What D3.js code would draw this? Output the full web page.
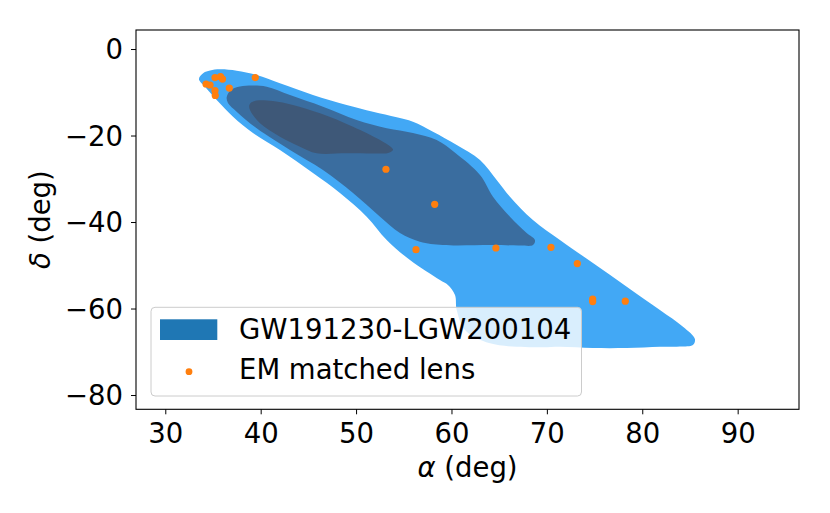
<!DOCTYPE html>
<html>
<head>
<meta charset="utf-8">
<script src="https://cdn.jsdelivr.net/npm/d3@7"></script>
<style>
  html, body { margin: 0; padding: 0; background: #ffffff; }
  svg { display: block; }
  text { font-family: "DejaVu Sans", sans-serif; fill: #000; }
</style>
</head>
<body>
<svg id="chart" width="830" height="513"></svg>
<script>
// ---- data ----
const xTicks = [30, 40, 50, 60, 70, 80, 90];
const yTicks = [0, -20, -40, -60, -80];
const xDomain = [26.93, 96.43];
const yDomain = [-83.3, 4.4];

const seriesLabel = "GW191230-LGW200104";
const pointsLabel = "EM matched lens";

// credible-region outlines [alpha, delta]
const outerContour = [
  [33.53,-6.94],[34.0,-5.55],[34.69,-4.97],[35.73,-4.69],[37.48,-5.02],[39.58,-6.01],
  [42.02,-7.93],[45.48,-10.64],[49.01,-12.95],[51.77,-14.50],[54.26,-15.79],[55.96,-16.81],
  [58.06,-19.12],[60.55,-22.20],[62.99,-25.66],[64.74,-30.29],[66.13,-34.15],[68.54,-39.54],
  [71.37,-44.16],[74.83,-49.48],[78.37,-54.96],[81.85,-60.35],[84.27,-64.21],[85.52,-67.05],
  [85.31,-68.44],[83.95,-68.79],[81.85,-68.83],[78.37,-69.13],[74.83,-69.13],[71.37,-68.83],
  [69.28,-68.97],[64.04,-68.05],[61.42,-64.97],[60.55,-60.35],[60.37,-56.88],[59.63,-54.57],
  [58.79,-53.41],[55.65,-48.79],[53.21,-44.16],[51.11,-38.77],[48.31,-33.29],[45.48,-28.67],
  [42.02,-23.35],[39.19,-19.42],[37.10,-15.65],[35.39,-11.79],[34.16,-8.72]
];
const middleContour = [
  [36.44,-11.10],[36.89,-9.48],[37.83,-8.67],[39.19,-8.44],[40.63,-8.72],[43.07,-10.64],
  [46.53,-13.34],[50.06,-16.42],[53.21,-18.34],[55.96,-19.42],[58.45,-21.04],[60.41,-24.05],
  [62.99,-29.13],[64.35,-34.15],[66.13,-38.77],[67.88,-42.54],[68.75,-44.16],[68.54,-45.32],
  [67.18,-45.43],[64.35,-45.32],[59.11,-45.32],[56.70,-44.55],[54.60,-42.54],[52.51,-38.77],
  [49.68,-33.29],[46.53,-27.98],[43.07,-23.35],[39.58,-18.34],[37.48,-14.50],[36.57,-12.49]
];
const innerContour = [
  [38.81,-12.95],[39.09,-12.25],[39.58,-11.91],[41.29,-12.02],[43.39,-12.95],[46.22,-14.87],
  [49.68,-17.97],[52.51,-21.04],[53.66,-22.66],[53.87,-23.35],[53.35,-24.05],[52.51,-24.16],
  [49.01,-24.12],[45.87,-24.12],[44.12,-22.59],[42.02,-20.28],[39.93,-17.18],[38.88,-14.10]
];

// EM matched lens positions
const lensAlpha = [34.27, 34.69, 35.21, 35.79, 36.0, 35.21, 35.24, 36.71, 39.43,
                   53.13, 58.24, 56.28, 64.66, 70.43, 73.19, 74.8, 74.8, 78.22];
const lensDelta = [-8.09, -8.32, -6.59, -6.40, -6.94, -9.64, -10.75, -9.02, -6.59,
                   -27.8, -35.9, -46.4, -46.0, -45.85, -49.6, -57.8, -58.4, -58.3];

// ---- layout ----
const svg = d3.select("#chart");
const L = 136, R = 799, T = 30, B = 409.3;
const x = d3.scaleLinear().domain(xDomain).range([L, R]);
const y = d3.scaleLinear().domain(yDomain).range([B, T]);
const fs = 27.5;

const plot = svg.append("g");
svg.append("defs").append("clipPath").attr("id", "clip")
  .append("rect").attr("x", L).attr("y", T).attr("width", R - L).attr("height", B - T);
plot.attr("clip-path", "url(#clip)");

const line = d3.line()
  .x(d => x(d[0])).y(d => y(d[1]))
  .curve(d3.curveCatmullRomClosed.alpha(0.5));

const contours = [
  { data: outerContour, color: "#42a8f5" },
  { data: middleContour, color: "#3a6d9f" },
  { data: innerContour, color: "#3e5878" }
];
plot.selectAll("path.ctr").data(contours).join("path")
  .attr("class", "ctr")
  .attr("d", d => line(d.data))
  .attr("fill", d => d.color)
  .attr("stroke", "none");

const pts = lensAlpha.map((a, i) => [a, lensDelta[i]]);
plot.selectAll("circle.lens").data(pts).join("circle")
  .attr("class", "lens")
  .attr("cx", d => x(d[0])).attr("cy", d => y(d[1]))
  .attr("r", 3.6).attr("fill", "#ff7f0e");

// ---- axes ----
const xAxis = d3.axisBottom(x).tickValues(xTicks).tickSize(5).tickPadding(0).tickFormat(d3.format("d"));
const yAxis = d3.axisLeft(y).tickValues(yTicks).tickSize(5).tickPadding(0)
  .tickFormat(d => d < 0 ? "\u2212" + Math.abs(d) : String(d));

const gx = svg.append("g").attr("transform", `translate(0,${B})`).call(xAxis);
const gy = svg.append("g").attr("transform", `translate(${L},0)`).call(yAxis);
[gx, gy].forEach(g => {
  g.select(".domain").remove();
  g.selectAll(".tick line").attr("stroke", "#000").attr("stroke-width", 1);
  g.selectAll(".tick text").attr("font-family", "DejaVu Sans").attr("font-size", fs).attr("fill", "#000");
});
gx.selectAll(".tick text").attr("y", 34).attr("dy", null);
gy.selectAll(".tick text").attr("x", -13).attr("dy", "0.36em");

// frame
svg.append("rect").attr("x", L).attr("y", T).attr("width", R - L).attr("height", B - T)
  .attr("fill", "none").attr("stroke", "#000").attr("stroke-width", 1.1);

// axis labels
svg.append("text").attr("x", (L + R) / 2).attr("y", 477)
  .attr("text-anchor", "middle").attr("font-size", fs)
  .html('<tspan font-style="italic">α</tspan> (deg)');
svg.append("text").attr("transform", `translate(50,${(T + B) / 2}) rotate(-90)`)
  .attr("text-anchor", "middle").attr("font-size", fs)
  .html('<tspan font-style="italic">δ</tspan> (deg)');

// ---- legend ----
const lg = svg.append("g");
lg.append("rect").attr("x", 151).attr("y", 307.3).attr("width", 430.5).attr("height", 88.7)
  .attr("rx", 4).attr("fill", "#ffffff").attr("fill-opacity", 0.8)
  .attr("stroke", "#cccccc").attr("stroke-width", 1);
lg.append("rect").attr("x", 160).attr("y", 319.3).attr("width", 57.3).attr("height", 20.7)
  .attr("fill", "#1f77b4");
lg.append("text").attr("x", 239).attr("y", 339).attr("font-size", fs).text(seriesLabel);
lg.append("circle").attr("cx", 189).attr("cy", 371.7).attr("r", 3.4).attr("fill", "#ff7f0e");
lg.append("text").attr("x", 239).attr("y", 379).attr("font-size", fs).text(pointsLabel);
</script>
</body>
</html>
